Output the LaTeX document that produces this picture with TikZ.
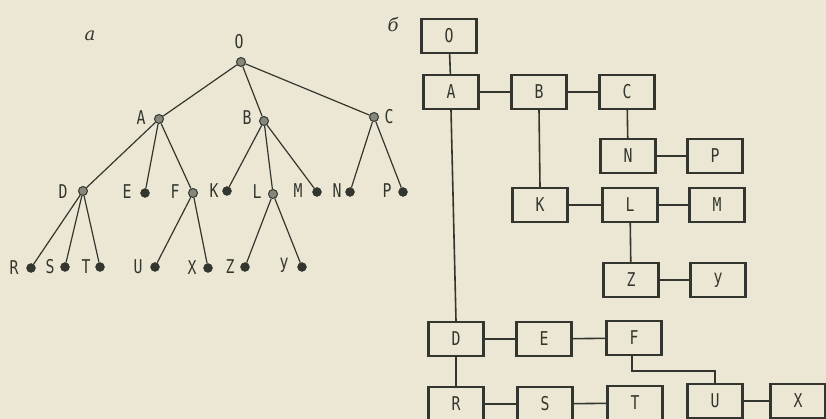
\documentclass[tikz,border=0pt]{standalone}
\usepackage{fontspec}
\newfontfamily\plotfont[FakeStretch=0.78]{DejaVu Sans Mono}
\newfontfamily\labfont{DejaVu Serif}
\definecolor{paper}{HTML}{ECE7D4}
\definecolor{ink}{HTML}{33362F}
\definecolor{hatchc}{HTML}{85877C}
\begin{document}
\begin{tikzpicture}[x=1pt,y=-1pt,
  lbl/.style={font=\plotfont\fontsize{19}{19}\selectfont, text=ink, inner sep=0pt},
  lnode/.style={circle, fill=ink, draw=ink, minimum size=9pt, inner sep=0pt},
  inode/.style={circle, fill=hatchc, draw=ink, line width=1pt, minimum size=9pt, inner sep=0pt},
  treeline/.style={draw=ink, line width=1.2pt},
  boxn/.style={draw=ink, line width=2.2pt, minimum width=55pt, minimum height=34pt, inner sep=0pt,
               font=\plotfont\fontsize{19}{19}\selectfont, text=ink},
  link/.style={draw=ink, line width=1.6pt},
  paneltag/.style={font=\labfont\itshape\fontsize{18}{18}\selectfont, text=ink, inner sep=0pt}]
\useasboundingbox (0,0) rectangle (826,419);
\fill[paper] (0,0) rectangle (826,419);
\clip (0,0) rectangle (826,419);

% ---------- panel a: tree ----------
\node[paneltag] (capa) at (90,36) {а};

\node[inode] (tO) at (241,62) {};
\node[inode] (tA) at (159,119) {};
\node[inode] (tB) at (264,121) {};
\node[inode] (tC) at (374,117) {};
\node[inode] (tD) at (83,191) {};
\node[lnode] (tE) at (145,193) {};
\node[inode] (tF) at (193,193) {};
\node[lnode] (tK) at (227,191) {};
\node[inode] (tL) at (273,194) {};
\node[lnode] (tM) at (317,192) {};
\node[lnode] (tN) at (350,192) {};
\node[lnode] (tP) at (403,192) {};
\node[lnode] (tR) at (31,268) {};
\node[lnode] (tS) at (65,267) {};
\node[lnode] (tT) at (100,267) {};
\node[lnode] (tU) at (155,267) {};
\node[lnode] (tX) at (208,268) {};
\node[lnode] (tZ) at (245,267) {};
\node[lnode] (tY) at (302,267) {};

\node[lbl] (lO) at (239,42) {O};
\node[lbl] (lA) at (141,118) {A};
\node[lbl] (lB) at (247,118) {B};
\node[lbl] (lC) at (389,117) {C};
\node[lbl] (lD) at (63,192) {D};
\node[lbl] (lE) at (127,192) {E};
\node[lbl] (lF) at (175,192) {F};
\node[lbl] (lK) at (214,191) {K};
\node[lbl] (lL) at (257,192) {L};
\node[lbl] (lM) at (298,191) {M};
\node[lbl] (lN) at (337,191) {N};
\node[lbl] (lP) at (387,191) {P};
\node[lbl] (lR) at (14,268) {R};
\node[lbl] (lS) at (50,267) {S};
\node[lbl] (lT) at (86,267) {T};
\node[lbl] (lU) at (138,267) {U};
\node[lbl] (lX) at (192,268) {X};
\node[lbl] (lZ) at (230,267) {Z};
\node[lbl] (lY) at (284,265) {y};

\foreach \a/\b in {tO/tA,tO/tB,tO/tC,tA/tD,tA/tE,tA/tF,tB/tK,tB/tL,tB/tM,tC/tN,tC/tP,
                   tD/tR,tD/tS,tD/tT,tF/tU,tF/tX,tL/tZ,tL/tY}
  \draw[treeline] (\a) -- (\b);

% ---------- panel b: boxes ----------
\node[paneltag] (capb) at (393,25) {б};

\node[boxn] (bO) at (449,36) {O};
\node[boxn] (bA) at (451,92) {A};
\node[boxn] (bB) at (539,92) {B};
\node[boxn] (bC) at (627,92) {C};
\node[boxn] (bN) at (628,156) {N};
\node[boxn] (bP) at (715,156) {P};
\node[boxn] (bK) at (540,205) {K};
\node[boxn] (bL) at (630,205) {L};
\node[boxn] (bM) at (717,205) {M};
\node[boxn] (bZ) at (631,280) {Z};
\node[boxn] (bY) at (718,280) {y};
\node[boxn] (bD) at (456,339) {D};
\node[boxn] (bE) at (544,339) {E};
\node[boxn] (bF) at (634,338) {F};
\node[boxn] (bR) at (456,404) {R};
\node[boxn] (bS) at (545,404) {S};
\node[boxn] (bT) at (635,403) {T};
\node[boxn] (bU) at (715,401) {U};
\node[boxn] (bX) at (798,401) {X};

\draw[link] (bO) -- (bA);
\draw[link] (bA) -- (bB);
\draw[link] (bB) -- (bC);
\draw[link] (bC) -- (bN);
\draw[link] (bN) -- (bP);
\draw[link] (bB.south) -- (bK.north);
\draw[link] (bK) -- (bL);
\draw[link] (bL) -- (bM);
\draw[link] (bL) -- (bZ);
\draw[link] (bZ) -- (bY);
\draw[link] (bA.south) -- (bD.north);
\draw[link] (bD) -- (bE);
\draw[link] (bE) -- (bF);
\draw[link] (bD) -- (bR);
\draw[link] (bR) -- (bS);
\draw[link] (bS) -- (bT);
\draw[link] (bU) -- (bX);
\draw[link] ([xshift=-2pt]bF.south) |- ([yshift=12pt]bU.north) -- (bU.north);
\end{tikzpicture}
\end{document}
